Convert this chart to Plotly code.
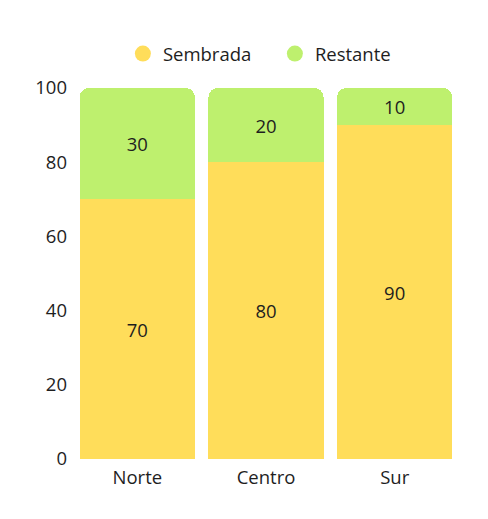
import plotly.graph_objects as go

categories = ["Norte", "Centro", "Sur"]
sembrada = [70, 80, 90]
restante = [30, 20, 10]
series_names = ["Sembrada", "Restante"]
colors = ["#FFDD5A", "#BEF06E"]

fig = go.Figure()
for name, vals, col in zip(series_names, [sembrada, restante], colors):
    fig.add_trace(go.Bar(
        x=categories, y=vals, name=name, marker=dict(color=col, line=dict(width=0)),
        text=[str(v) for v in vals], textposition="inside", insidetextanchor="middle",
        textfont=dict(size=18.5, color="#1e1e1e"), showlegend=False, hoverinfo="skip"))
for name, col in zip(series_names, colors):
    fig.add_trace(go.Scatter(
        x=[None], y=[None], mode="markers", name=name,
        marker=dict(symbol="circle", size=19, color=col), showlegend=True))

fig.update_layout(
    width=488, height=519,
    barmode="stack", bargap=0.106, barcornerradius=9,
    plot_bgcolor="white", paper_bgcolor="white",
    font=dict(family="Open Sans", size=18.5, color="#1e1e1e"),
    margin=dict(l=65, r=37, t=80, b=68),
    legend=dict(orientation="h", x=0.523, xanchor="center", y=1.0916, yanchor="middle",
                yref="paper", traceorder="normal", font=dict(size=18.5),
                itemsizing="trace", entrywidth=107),
    xaxis=dict(showgrid=False, showline=False, ticks="", zeroline=False, ticklabelstandoff=5),
    yaxis=dict(range=[0, 100], dtick=20, showgrid=False, zeroline=False, showline=False, ticks="",
               ticklabelstandoff=5),
)
fig.write_html("out.html")
